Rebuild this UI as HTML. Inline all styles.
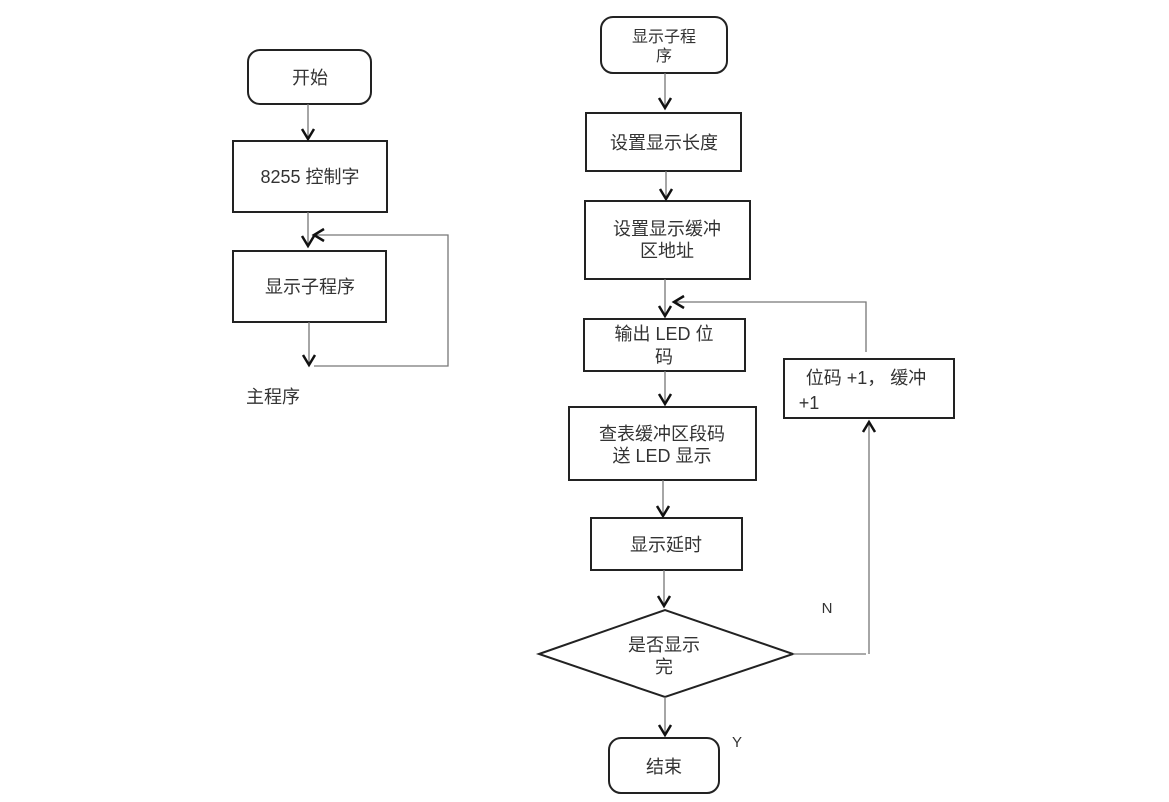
<!DOCTYPE html>
<html><head><meta charset="utf-8"><style>
html,body{margin:0;padding:0;background:#fff;}
svg text{font-family:"Liberation Sans","Noto Sans CJK SC",sans-serif;fill:#333;}
</style></head><body>
<svg width="1169" height="797" viewBox="0 0 1169 797" xmlns="http://www.w3.org/2000/svg">
<g fill="none" stroke="#222" stroke-width="2">
<rect x="248" y="50" width="123" height="54" rx="12"/>
<rect x="233" y="141" width="154" height="71"/>
<rect x="233" y="251" width="153" height="71"/>
<rect x="601" y="17" width="126" height="56" rx="12"/>
<rect x="586" y="113" width="155" height="58"/>
<rect x="585" y="201" width="165" height="78"/>
<rect x="584" y="319" width="161" height="52"/>
<rect x="569" y="407" width="187" height="73"/>
<rect x="784" y="359" width="170" height="59"/>
<rect x="591" y="518" width="151" height="52"/>
<polygon points="539,654 665,610 793,654 665,697"/>
<rect x="609" y="738" width="110" height="55" rx="12"/>
</g>
<g fill="none" stroke="#777" stroke-width="1.3">
<line x1="308" y1="104" x2="308" y2="139"/>
<line x1="308" y1="212" x2="308" y2="246"/>
<polyline points="314,235 448,235 448,366 314,366"/>
<line x1="309" y1="322" x2="309" y2="364"/>
<line x1="665" y1="73" x2="665" y2="108"/>
<line x1="666" y1="171" x2="666" y2="199"/>
<line x1="665" y1="279" x2="665" y2="316"/>
<polyline points="674,302 866,302 866,352"/>
<line x1="665" y1="371" x2="665" y2="404"/>
<line x1="663" y1="480" x2="663" y2="516"/>
<line x1="664" y1="570" x2="664" y2="606"/>
<line x1="665" y1="697" x2="665" y2="735"/>
<polyline points="793,654 866,654"/>
<line x1="869" y1="654" x2="869" y2="422"/>
</g>
<g fill="none" stroke="#111" stroke-width="2.5">
<polyline points="302,129 308,139 314,129"/>
<polyline points="302,236 308,246 314,236"/>
<polyline points="324,229 314,235 324,241"/>
<polyline points="303,355 309,365 315,355"/>
<polyline points="659,98 665,108 671,98"/>
<polyline points="660,189 666,199 672,189"/>
<polyline points="659,306 665,316 671,306"/>
<polyline points="684,296 674,302 684,308"/>
<polyline points="659,394 665,404 671,394"/>
<polyline points="657,506 663,516 669,506"/>
<polyline points="658,596 664,606 670,596"/>
<polyline points="659,725 665,735 671,725"/>
<polyline points="863,432 869,422 875,432"/>
</g>
<g font-size="18" text-anchor="middle">
<text x="310" y="84">开始</text>
<text x="310" y="183">8255 控制字</text>
<text x="310" y="293">显示子程序</text>
<text x="273" y="403">主程序</text>
<text x="664" y="42" font-size="16">显示子程</text>
<text x="664" y="61" font-size="16">序</text>
<text x="664" y="149">设置显示长度</text>
<text x="667" y="235">设置显示缓冲</text>
<text x="667" y="257">区地址</text>
<text x="664" y="340">输出 LED 位</text>
<text x="664" y="363">码</text>
<text x="662" y="440">查表缓冲区段码</text>
<text x="662" y="462">送 LED 显示</text>
<text x="666" y="551">显示延时</text>
<text x="664" y="651">是否显示</text>
<text x="664" y="673">完</text>
<text x="664" y="773">结束</text>
<text x="866" y="384">位码 +1， 缓冲</text>
<text x="809" y="409">+1</text>
<text x="827" y="613" font-size="15">N</text>
<text x="737" y="747" font-size="15">Y</text>
</g>
</svg>
</body></html>
